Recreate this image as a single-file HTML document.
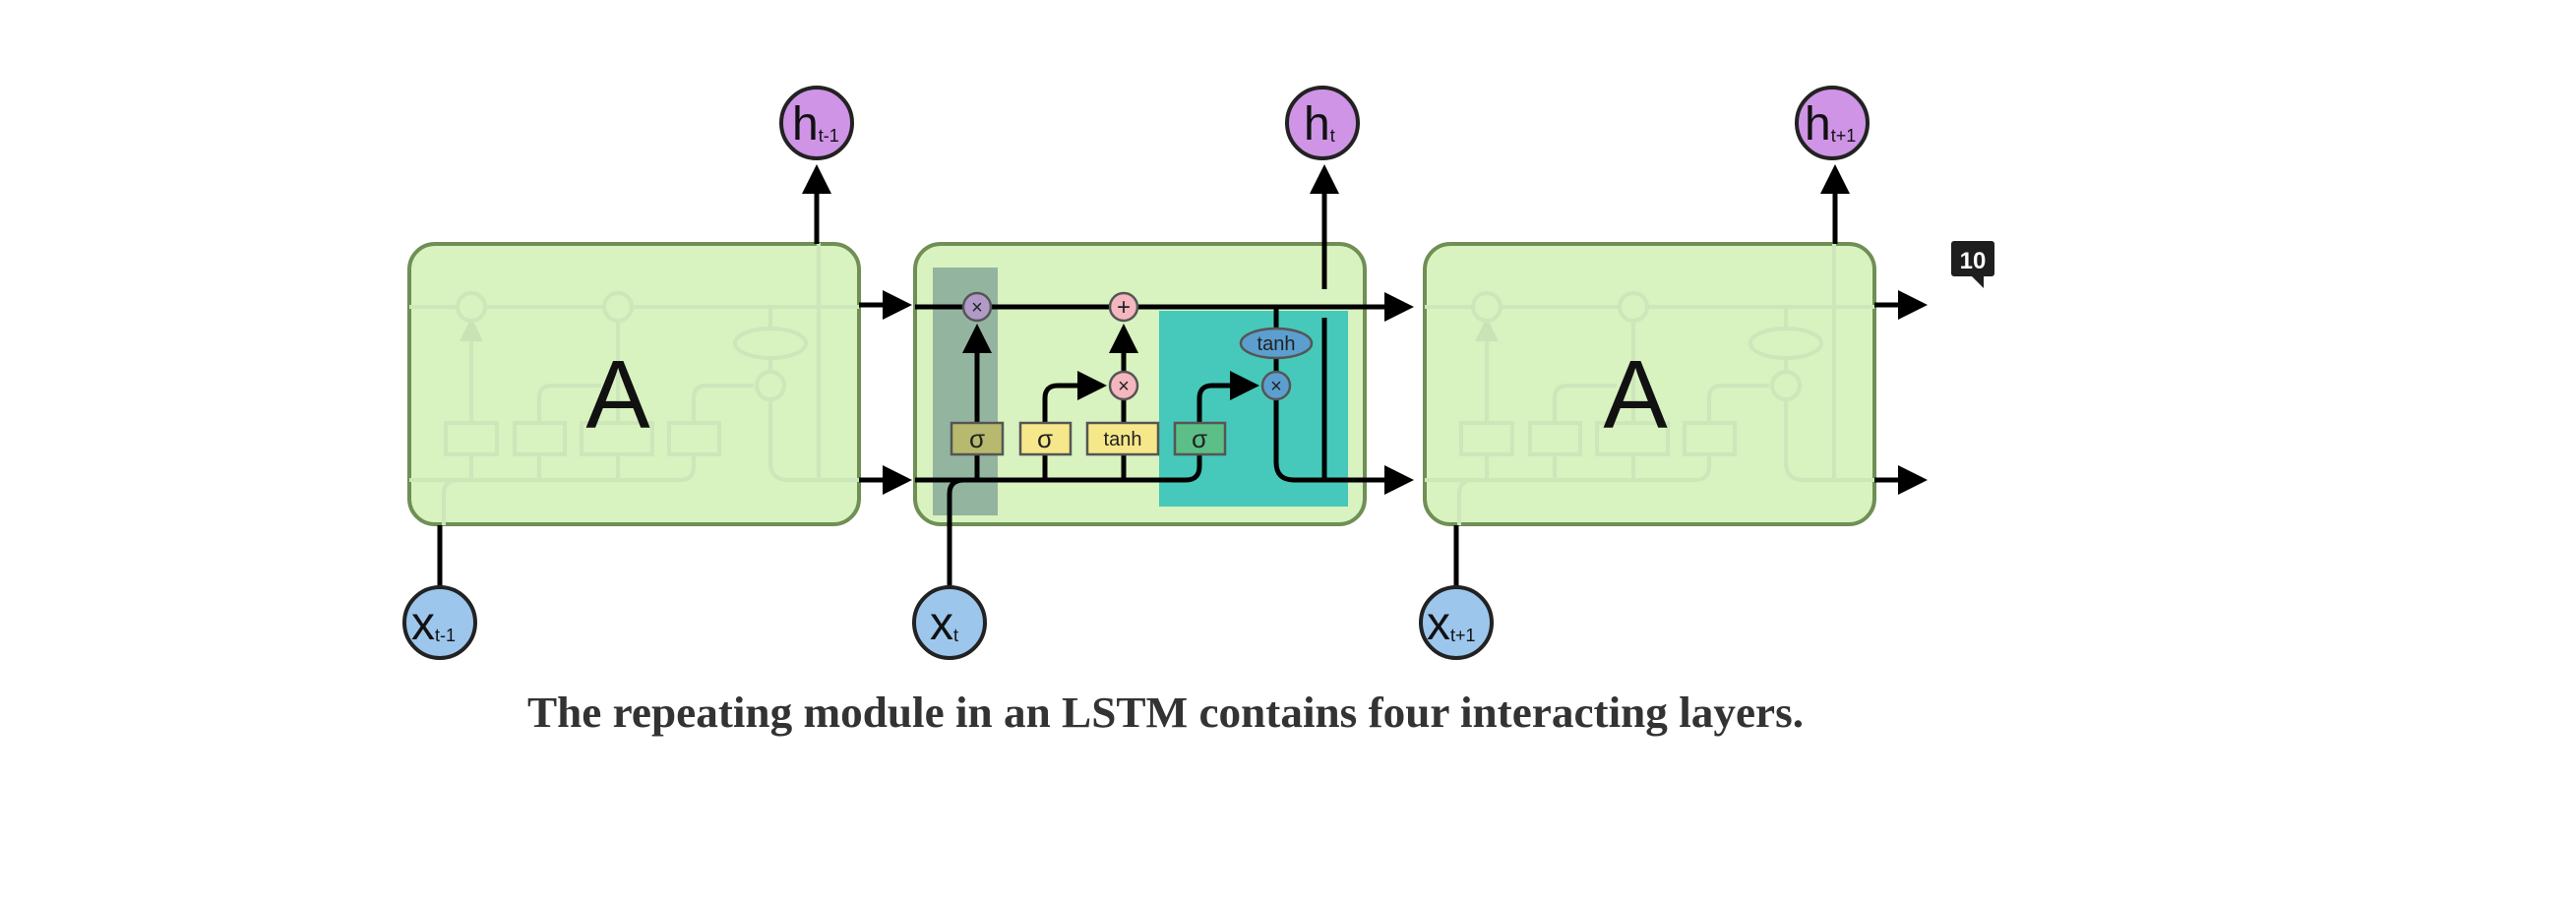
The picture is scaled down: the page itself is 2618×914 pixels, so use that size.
<!DOCTYPE html>
<html><head><meta charset="utf-8"><style>
html,body{margin:0;padding:0;background:#fff;}
svg{display:block;}
</style></head><body>
<svg width="2618" height="914" viewBox="0 0 2618 914" xmlns="http://www.w3.org/2000/svg">
<defs>
<marker id="ah" markerWidth="6" markerHeight="6" refX="5" refY="3" orient="auto" markerUnits="strokeWidth">
<path d="M0,0 L6,3 L0,6 z" fill="#000"/>
</marker>
<marker id="ahf" markerWidth="6" markerHeight="6" refX="5" refY="3" orient="auto" markerUnits="strokeWidth">
<path d="M0,0 L6,3 L0,6 z" fill="#c9e2b6"/>
</marker>
<g id="faint" fill="none" stroke="#cde6ba" stroke-width="4">
<line x1="930" y1="312" x2="1387" y2="312"/>
<path d="M930 488 H1205 Q1219 488 1219 474 V462"/>
<line x1="993" y1="488" x2="993" y2="327" marker-end="url(#ahf)"/>
<path d="M1062 488 V405 Q1062 392 1075 392 H1125"/>
<line x1="1142" y1="488" x2="1142" y2="327"/>
<path d="M1219 430 V405 Q1219 392 1232 392 H1280"/>
<path d="M1297 312 V470 Q1297 488 1315 488 H1387"/>
<line x1="1346" y1="488" x2="1346" y2="247"/>
<circle cx="993" cy="312" r="14" fill="#d8f2c0"/>
<circle cx="1142" cy="312" r="14" fill="#d8f2c0"/>
<circle cx="1297" cy="392" r="14" fill="#d8f2c0"/>
<ellipse cx="1297" cy="349" rx="36" ry="15" fill="#d8f2c0"/>
<rect x="967" y="430" width="52" height="32" fill="#d8f2c0"/>
<rect x="1037" y="430" width="51" height="32" fill="#d8f2c0"/>
<rect x="1105" y="430" width="72" height="32" fill="#d8f2c0"/>
<rect x="1194" y="430" width="51" height="32" fill="#d8f2c0"/>
<path d="M965 534 V502 Q965 488 980 488"/>
</g>
</defs>

<rect x="416" y="248" width="457" height="285" rx="26" fill="#d8f2c0" stroke="#6f8f55" stroke-width="4"/>
<rect x="930" y="248" width="457" height="285" rx="26" fill="#d8f2c0" stroke="#6f8f55" stroke-width="4"/>
<rect x="1448" y="248" width="457" height="285" rx="26" fill="#d8f2c0" stroke="#6f8f55" stroke-width="4"/>

<use href="#faint" transform="translate(-514,0)"/>
<use href="#faint" transform="translate(518,0)"/>

<text x="628" y="435" font-family="Liberation Sans, sans-serif" font-size="98" text-anchor="middle" fill="#111">A</text>
<text x="1662" y="435" font-family="Liberation Sans, sans-serif" font-size="98" text-anchor="middle" fill="#111">A</text>

<rect x="948" y="272" width="66" height="252" fill="#93b5a0"/>
<rect x="1178" y="316" width="192" height="199" fill="#46c9ba"/>

<g fill="none" stroke="#000" stroke-width="5">
<line x1="873" y1="310" x2="922" y2="310" marker-end="url(#ah)"/>
<line x1="873" y1="488" x2="922" y2="488" marker-end="url(#ah)"/>
<line x1="1905" y1="310" x2="1954" y2="310" marker-end="url(#ah)"/>
<line x1="1905" y1="488" x2="1954" y2="488" marker-end="url(#ah)"/>
<line x1="930" y1="312" x2="1432" y2="312" marker-end="url(#ah)"/>
<path d="M930 488 H1205 Q1219 488 1219 474 V462"/>
<path d="M965 598 V502 Q965 488 980 488"/>
<line x1="993" y1="488" x2="993" y2="462"/>
<line x1="993" y1="430" x2="993" y2="334" marker-end="url(#ah)"/>
<line x1="1062" y1="488" x2="1062" y2="462"/>
<path d="M1062 430 V405 Q1062 392 1075 392 H1120" marker-end="url(#ah)"/>
<line x1="1142" y1="488" x2="1142" y2="462"/>
<line x1="1142" y1="430" x2="1142" y2="406"/>
<line x1="1142" y1="378" x2="1142" y2="334" marker-end="url(#ah)"/>
<path d="M1219 430 V405 Q1219 392 1232 392 H1275" marker-end="url(#ah)"/>
<line x1="1297" y1="312" x2="1297" y2="334"/>
<line x1="1297" y1="364" x2="1297" y2="378"/>
<path d="M1297 406 V470 Q1297 488 1315 488 H1432" marker-end="url(#ah)"/>
<line x1="1346" y1="488" x2="1346" y2="323"/>
<line x1="1346" y1="294" x2="1346" y2="172" marker-end="url(#ah)"/>
<line x1="830" y1="248" x2="830" y2="172" marker-end="url(#ah)"/>
<line x1="1865" y1="248" x2="1865" y2="172" marker-end="url(#ah)"/>
<line x1="447" y1="534" x2="447" y2="598"/>
<line x1="1480" y1="534" x2="1480" y2="598"/>
</g>

<g stroke="#555" stroke-width="2.5">
<circle cx="993" cy="312" r="14" fill="#b29ac8"/>
<circle cx="1142" cy="312" r="14" fill="#f4b6bf"/>
<circle cx="1142" cy="392" r="14" fill="#f4b6bf"/>
<circle cx="1297" cy="392" r="14" fill="#5b9fcf"/>
<ellipse cx="1297" cy="349" rx="36" ry="15" fill="#5b9fcf"/>
<rect x="967" y="430" width="52" height="32" fill="#b7b96e"/>
<rect x="1037" y="430" width="51" height="32" fill="#f6e88a"/>
<rect x="1105" y="430" width="72" height="32" fill="#f6e88a"/>
<rect x="1194" y="430" width="51" height="32" fill="#5cbf88"/>
</g>
<g font-family="Liberation Sans, sans-serif" fill="#222" text-anchor="middle">
<text x="993" y="319" font-size="20">×</text>
<text x="1142" y="320" font-size="24">+</text>
<text x="1142" y="399" font-size="20">×</text>
<text x="1297" y="399" font-size="20">×</text>
<text x="1297" y="356" font-size="20">tanh</text>
<text x="993" y="455" font-size="26">σ</text>
<text x="1062" y="455" font-size="26">σ</text>
<text x="1141" y="453" font-size="20">tanh</text>
<text x="1219" y="455" font-size="26">σ</text>
</g>

<g stroke="#222" stroke-width="4">
<circle cx="830" cy="125" r="36" fill="#cf94e6"/>
<circle cx="1344" cy="125" r="36" fill="#cf94e6"/>
<circle cx="1862" cy="125" r="36" fill="#cf94e6"/>
<circle cx="447" cy="633" r="36" fill="#9cc6ec"/>
<circle cx="965" cy="633" r="36" fill="#9cc6ec"/>
<circle cx="1480" cy="633" r="36" fill="#9cc6ec"/>
</g>
<g font-family="Liberation Sans, sans-serif" fill="#111">
<text x="805" y="142" font-size="48">h<tspan font-size="18" dy="2">t-1</tspan></text>
<text x="1325" y="142" font-size="48">h<tspan font-size="18" dy="2">t</tspan></text>
<text x="1834" y="142" font-size="48">h<tspan font-size="18" dy="2">t+1</tspan></text>
<text x="418" y="650" font-size="48">x<tspan font-size="18" dy="2">t-1</tspan></text>
<text x="945" y="650" font-size="48">x<tspan font-size="18" dy="2">t</tspan></text>
<text x="1450" y="650" font-size="48">x<tspan font-size="18" dy="2">t+1</tspan></text>
</g>

<rect x="1983" y="245" width="44" height="36" rx="3" fill="#1e1e1e"/>
<path d="M2004 281 L2016 281 L2016 293 z" fill="#1e1e1e"/>
<text x="2005" y="273" font-family="Liberation Sans, sans-serif" font-size="24" font-weight="bold" fill="#fff" text-anchor="middle">10</text>

<text x="536" y="739" font-family="Liberation Serif, serif" font-size="44" font-weight="bold" fill="#333" textLength="1297" lengthAdjust="spacingAndGlyphs">The repeating module in an LSTM contains four interacting layers.</text>
</svg>
</body></html>
